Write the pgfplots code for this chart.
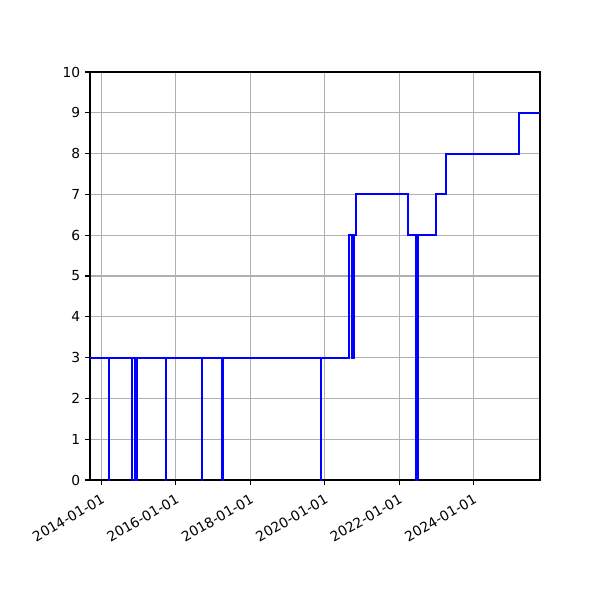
\documentclass[border=0pt]{standalone}
\usepackage{pgfplots}
\pgfplotsset{compat=1.18}
\usepackage{fontspec}
\setmainfont{DejaVu Sans}
\definecolor{gridgray}{HTML}{B0B0B0}
\begin{document}
\fontsize{6.9}{8}\selectfont
\begin{tikzpicture}
\begin{axis}[
scale only axis,
width=225pt,
height=204pt,
xmin=2013.696, xmax=2025.787,
ymin=0, ymax=10,
ytick={0,1,...,10},
xtick={2014,2016,2018,2020,2022,2024},
xticklabels={2014-01-01,2016-01-01,2018-01-01,2020-01-01,2022-01-01,2024-01-01},
xticklabel style={rotate=30, anchor=north east, yshift=-1pt, xshift=0pt},
grid=major,
major grid style={gridgray, line width=0.55pt},
axis line style={line width=0.55pt},
tick style={black, line width=0.55pt},
tick align=outside,
major tick length=2.4pt,
xtick pos=bottom, ytick pos=left,
/pgf/number format/assume math mode=true,
tick label style={font=\fontsize{6.9}{8}\selectfont},
]
\addplot[const plot, color=blue, line width=1.05pt] coordinates {
(2013.696,3)
(2014.199,0) (2014.203,3)
(2014.825,0) (2014.829,3)
(2014.915,0) (2014.965,3)
(2015.738,0) (2015.742,3)
(2016.697,0) (2016.701,3)
(2017.251,0) (2017.255,3)
(2019.903,0) (2019.907,3)
(2020.658,6) (2020.74,3) (2020.79,6) (2020.84,7)
(2022.248,6)
(2022.46,0) (2022.50,6)
(2023.00,7)
(2023.253,8)
(2025.23,9)
(2025.787,9)
};
\end{axis}
\pgfresetboundingbox
\path (-45pt,-60pt) rectangle (255pt,240pt);
\end{tikzpicture}
\end{document}
